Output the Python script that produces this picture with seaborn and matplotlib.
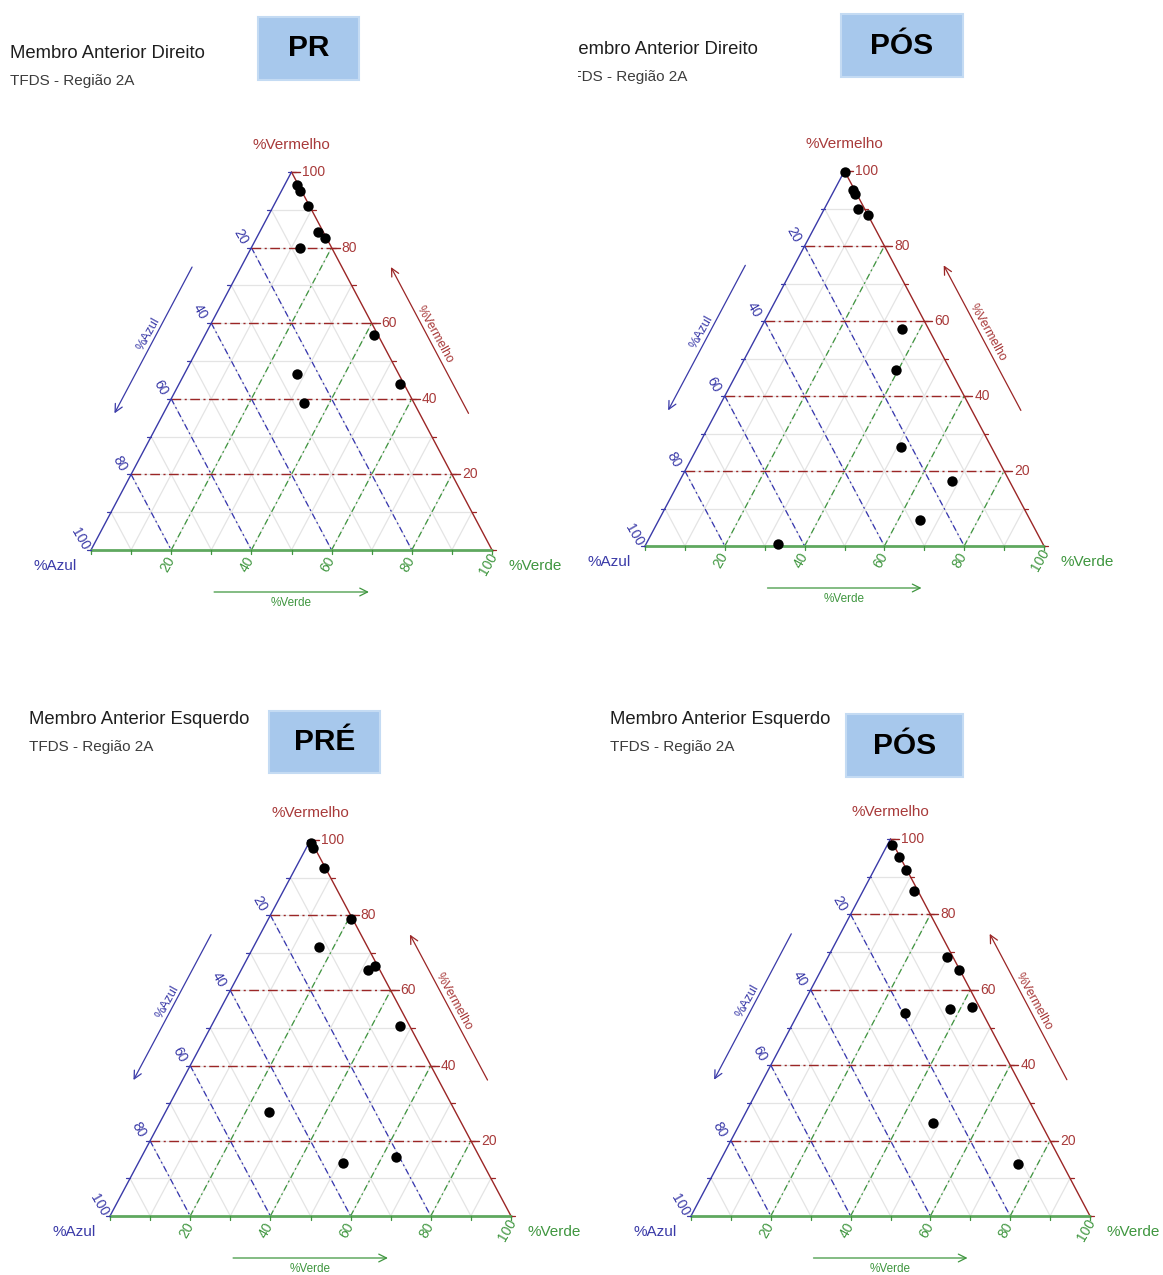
import numpy as np
import pandas as pd
import matplotlib
matplotlib.use('Agg')
from matplotlib import pyplot as plt
from matplotlib.patches import Rectangle
import seaborn as sns

# ---- data: (%Vermelho, %Verde, %Azul) ----
dir_pre_vermelho = [96.5, 95.0, 91.0, 84.0, 82.5, 80.0, 57.0, 44.0, 46.5, 39.0]
dir_pre_verde = [3.2, 4.5, 8.7, 14.5, 17.0, 12.0, 42.0, 55.0, 28.0, 33.5]
dir_pre_azul = [0.3, 0.5, 0.3, 1.5, 0.5, 8.0, 1.0, 1.0, 25.5, 27.5]

dir_pos_vermelho = [99.7, 95.0, 94.0, 90.0, 88.4, 58.0, 47.0, 26.5, 17.3, 7.0, 0.5]
dir_pos_verde = [0.3, 4.7, 5.6, 8.3, 11.6, 35.4, 39.4, 51.0, 68.4, 65.5, 33.0]
dir_pos_azul = [0.0, 0.3, 0.4, 1.7, 0.0, 6.6, 13.6, 22.5, 14.3, 27.5, 66.5]

esq_pre_vermelho = [99.3, 98.0, 92.5, 79.0, 71.5, 65.4, 66.5, 50.4, 27.7, 14.2, 15.6]
esq_pre_verde = [0.5, 1.7, 7.0, 20.5, 16.4, 31.7, 32.8, 47.1, 25.8, 50.9, 63.4]
esq_pre_azul = [0.2, 0.3, 0.5, 0.5, 12.1, 2.9, 0.7, 2.5, 46.5, 34.9, 21.0]

esq_pos_vermelho = [98.4, 95.3, 91.8, 86.3, 68.6, 65.3, 53.9, 54.8, 55.5, 24.7, 13.8]
esq_pos_verde = [1.2, 4.5, 7.9, 12.7, 29.8, 34.6, 26.8, 37.5, 42.7, 48.4, 75.1]
esq_pos_azul = [0.4, 0.2, 0.3, 1.0, 1.6, 0.1, 19.3, 7.7, 1.8, 26.9, 11.1]

titles = ['Membro Anterior Direito', 'Membro Anterior Direito',
          'Membro Anterior Esquerdo', 'Membro Anterior Esquerdo']
subtitle = 'TFDS - Região 2A'
badges = ['PR', 'PÓS', 'PRÉ', 'PÓS']
tick_values = [20, 40, 60, 80, 100]

RED = '#a83a3a'
RED_LINE = '#9b2626'
BLUE = '#3a3aa8'
BLUE_LINE = '#3535b0'
GREEN = '#3f963f'
GREEN_LINE = '#3f963f'
GRID = '#e4e4e4'

W_PX, H_PX = 1163, 1275

sns.set_theme(style='white')
plt.rcParams['font.family'] = ['Liberation Sans', 'DejaVu Sans']

fig = plt.figure(figsize=(W_PX / 100, H_PX / 100), dpi=100)


def tern(r, g, b):
    r = np.asarray(r, float)
    g = np.asarray(g, float)
    b = np.asarray(b, float)
    s = r + g + b
    return (g + r / 2) / s, r / s


def fx(x):
    return x / W_PX


def fy(y):
    return 1 - y / H_PX


panels = [
    # axes bbox (px), triangle bottom-left (px), width, height, header positions
    dict(box=(0, 0, 578, 640), bl=(91, 550), w=401, h=378,
         title=(10, 53), sub=(10, 81), badge=(258, 17, 101, 63),
         data=(dir_pre_vermelho, dir_pre_verde, dir_pre_azul)),
    dict(box=(578, 0, 1163, 640), bl=(645, 546), w=399, h=375,
         title=(563, 49), sub=(563, 77), badge=(841, 14, 122, 63),
         data=(dir_pos_vermelho, dir_pos_verde, dir_pos_azul)),
    dict(box=(0, 640, 580, 1275), bl=(110, 1216), w=401, h=376,
         title=(29, 719), sub=(29, 747), badge=(269, 711, 111, 62),
         data=(esq_pre_vermelho, esq_pre_verde, esq_pre_azul)),
    dict(box=(580, 640, 1163, 1275), bl=(691, 1216), w=399, h=377,
         title=(610, 719), sub=(610, 747), badge=(846, 714, 117, 63),
         data=(esq_pos_vermelho, esq_pos_verde, esq_pos_azul)),
]

dash = (0, (7, 2.5, 1.5, 2.5))

for i, p in enumerate(panels):
    x0, y0, x1, y1 = p['box']
    bx, by = p['bl']
    W, H = p['w'], p['h']
    ax = fig.add_axes([fx(x0), fy(y1), (x1 - x0) / W_PX, (y1 - y0) / H_PX])
    ax.set_xlim((x0 - bx) / W, (x1 - bx) / W)
    ax.set_ylim((by - y1) / H, (by - y0) / H)
    ax.axis('off')
    # pixel -> data scale factors
    dx = 1 / W
    dy = 1 / H

    # light grid every 10 %
    for v in range(10, 100, 10):
        f = v / 100
        for (a, c) in [(tern(f, 0, 1 - f), tern(f, 1 - f, 0)),
                       (tern(0, f, 1 - f), tern(1 - f, f, 0)),
                       (tern(1 - f, 0, f), tern(0, 1 - f, f))]:
            ax.plot([a[0], c[0]], [a[1], c[1]], color=GRID, lw=0.9, zorder=1)

    # major dash-dot lines
    for v in [20, 40, 60, 80]:
        f = v / 100
        a, c = tern(f, 0, 1 - f), tern(f, 1 - f, 0)
        ax.plot([a[0], c[0]], [a[1], c[1]], color=RED_LINE, lw=1.0, ls=dash, zorder=2)
        a, c = tern(0, f, 1 - f), tern(1 - f, f, 0)
        ax.plot([a[0], c[0]], [a[1], c[1]], color=GREEN_LINE, lw=0.9, ls=(0, (5, 2.5, 1.5, 2.5)), zorder=2)
        a, c = tern(1 - f, 0, f), tern(0, 1 - f, f)
        ax.plot([a[0], c[0]], [a[1], c[1]], color=BLUE_LINE, lw=0.9, ls=(0, (5, 2.5, 1.5, 2.5)), zorder=2)

    # triangle edges
    ax.plot([0, 0.5], [0, 1], color=BLUE, lw=1.0, zorder=3)
    ax.plot([0.5, 1], [1, 0], color=RED_LINE, lw=1.0, zorder=3)
    ax.plot([0, 1], [0, 0], color='#5fa85f', lw=2.0, zorder=3)

    # ticks
    for v in range(0, 101, 10):
        f = v / 100
        ax.plot([f, f], [0, -4 * dy], color=GREEN, lw=0.9, zorder=3)
        lx, ly = tern(1 - f, 0, f)
        ax.plot([lx, lx - 4 * dx], [ly, ly], color=BLUE, lw=0.9, zorder=3)
        rx, ry = tern(f, 1 - f, 0)
        ax.plot([rx, rx + 4 * dx], [ry, ry], color=RED_LINE, lw=0.9, zorder=3)
    for v in tick_values:
        f = v / 100
        rx, ry = tern(f, 1 - f, 0)
        ax.plot([rx, rx + 8 * dx], [ry, ry], color=RED_LINE, lw=1.0, zorder=3)
        ax.text(rx + 10 * dx, ry, str(v), color=RED, fontsize=10,
                ha='left', va='center')
        lx, ly = tern(1 - f, 0, f)
        ax.text(lx - 11 * dx, ly + 11 * dy, str(v), color=BLUE, fontsize=10,
                ha='center', va='center', rotation=-60)
        ax.text(f - 4 * dx, -14 * dy, str(v), color=GREEN, fontsize=10,
                ha='center', va='center', rotation=60)

    # vertex labels
    ax.text(0.5, 1 + 27 * dy, '%Vermelho', color=RED, fontsize=11,
            ha='center', va='center')
    ax.text(-36 * dx, -16 * dy, '%Azul', color=BLUE, fontsize=11,
            ha='center', va='center')
    ax.text(1 + 43 * dx, -16 * dy, '%Verde', color=GREEN, fontsize=11,
            ha='center', va='center')

    # axis direction arrows (shifted horizontally away from the edges)
    off = 49 * dx
    a = tern(0.755, 0, 0.245)
    c = tern(0.355, 0, 0.645)
    ax.annotate('', xy=(c[0] - off, c[1]), xytext=(a[0] - off, a[1]),
                arrowprops=dict(arrowstyle='->', color=BLUE, lw=0.9, mutation_scale=14))
    m = tern(0.565, 0, 0.435)
    ax.text(m[0] - off - 7 * dx, m[1] + 2 * dy, '%Azul', color=BLUE, fontsize=9,
            ha='center', va='center', rotation=61)
    a = tern(0.355, 0.645, 0)
    c = tern(0.755, 0.245, 0)
    ax.annotate('', xy=(c[0] + off, c[1]), xytext=(a[0] + off, a[1]),
                arrowprops=dict(arrowstyle='->', color=RED_LINE, lw=0.9, mutation_scale=14))
    m = tern(0.565, 0.435, 0)
    ax.text(m[0] + off + 7 * dx, m[1] + 2 * dy, '%Vermelho', color=RED, fontsize=9,
            ha='center', va='center', rotation=-61)
    ax.annotate('', xy=(0.7, -42 * dy), xytext=(0.3, -42 * dy),
                arrowprops=dict(arrowstyle='->', color=GREEN, lw=0.9, mutation_scale=14))
    ax.text(0.5, -53 * dy, '%Verde', color=GREEN, fontsize=8.5, ha='center', va='center')

    # points
    r, g, b = p['data']
    px, py = tern(r, g, b)
    df = pd.DataFrame({'x': px, 'y': py})
    sns.scatterplot(data=df, x='x', y='y', ax=ax, color='black', s=56,
                    edgecolor='black', linewidth=0, zorder=5, legend=False)
    ax.set_xlim((x0 - bx) / W, (x1 - bx) / W)
    ax.set_ylim((by - y1) / H, (by - y0) / H)

    # header text (clipped to the panel, like the cropped screenshot)
    tx, ty = p['title']
    ax.text(fx(tx), fy(ty), titles[i], transform=fig.transFigure, fontsize=13.3,
            color='#1e1e1e', ha='left', va='center', clip_on=True)
    sx, sy = p['sub']
    ax.text(fx(sx), fy(sy), subtitle, transform=fig.transFigure, fontsize=11,
            color='#3c3c3c', ha='left', va='center', clip_on=True)
    rx0, ry0, rw, rh = p['badge']
    fig.add_artist(Rectangle((fx(rx0), fy(ry0 + rh)), rw / W_PX, rh / H_PX,
                             transform=fig.transFigure, facecolor='#a7c8ec',
                             edgecolor='#c4dbf3', lw=1.5))
    fig.text(fx(rx0 + rw / 2), fy(ry0 + rh / 2), badges[i], fontsize=21.5,
             fontweight='bold', color='black', ha='center', va='center')

fig.savefig('out.png', dpi=100, facecolor='white')
